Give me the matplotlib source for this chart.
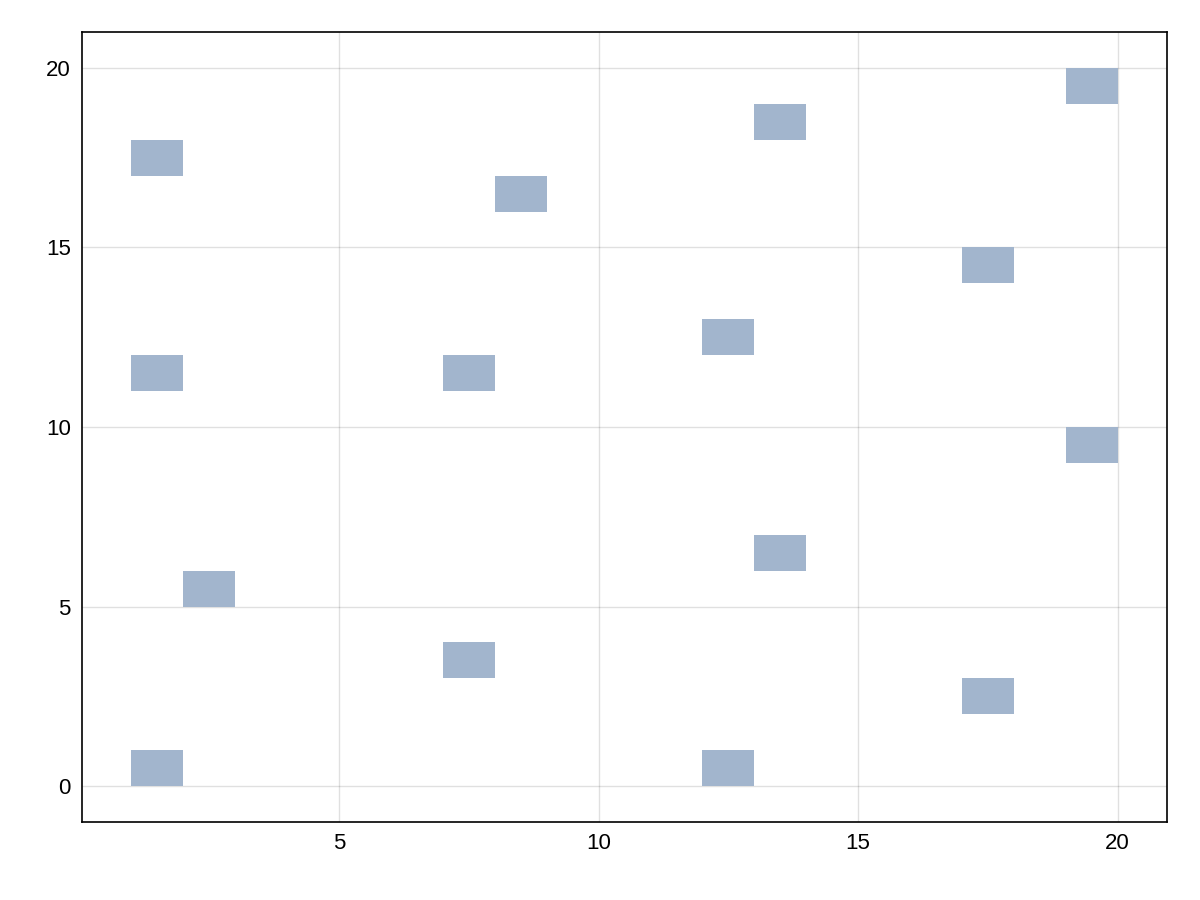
import matplotlib
matplotlib.use("Agg")
import matplotlib.pyplot as plt

plt.rcParams["font.family"] = ["Liberation Sans", "DejaVu Sans"]

# lower-left corners of the filled cells (each cell 1 x 1)
cell_x = [1, 1, 2, 1, 7, 7, 8, 12, 12, 13, 13, 17, 17, 19, 19]
cell_y = [17, 11, 5, 0, 3, 11, 16, 0, 12, 6, 18, 14, 2, 9, 19]
xticks = [5, 10, 15, 20]
yticks = [0, 5, 10, 15, 20]

fig = plt.figure(figsize=(12, 9), dpi=100)
ax = fig.add_axes([82 / 1200, 78 / 900, 1085 / 1200, 790 / 900])
ax.bar(cell_x, height=1, width=1, bottom=cell_y, align="edge",
       color="#a2b5cd", linewidth=0, zorder=2)
ax.set_xlim(0.05, 20.95)
ax.set_ylim(-1, 21)
ax.set_xticks(xticks)
ax.set_yticks(yticks)
ax.grid(color="#000000", alpha=0.12, lw=1, zorder=0)
ax.tick_params(length=0, labelsize=16, pad=8)
for s in ax.spines.values():
    s.set_linewidth(1.2)

fig.savefig("out.png", dpi=100)
